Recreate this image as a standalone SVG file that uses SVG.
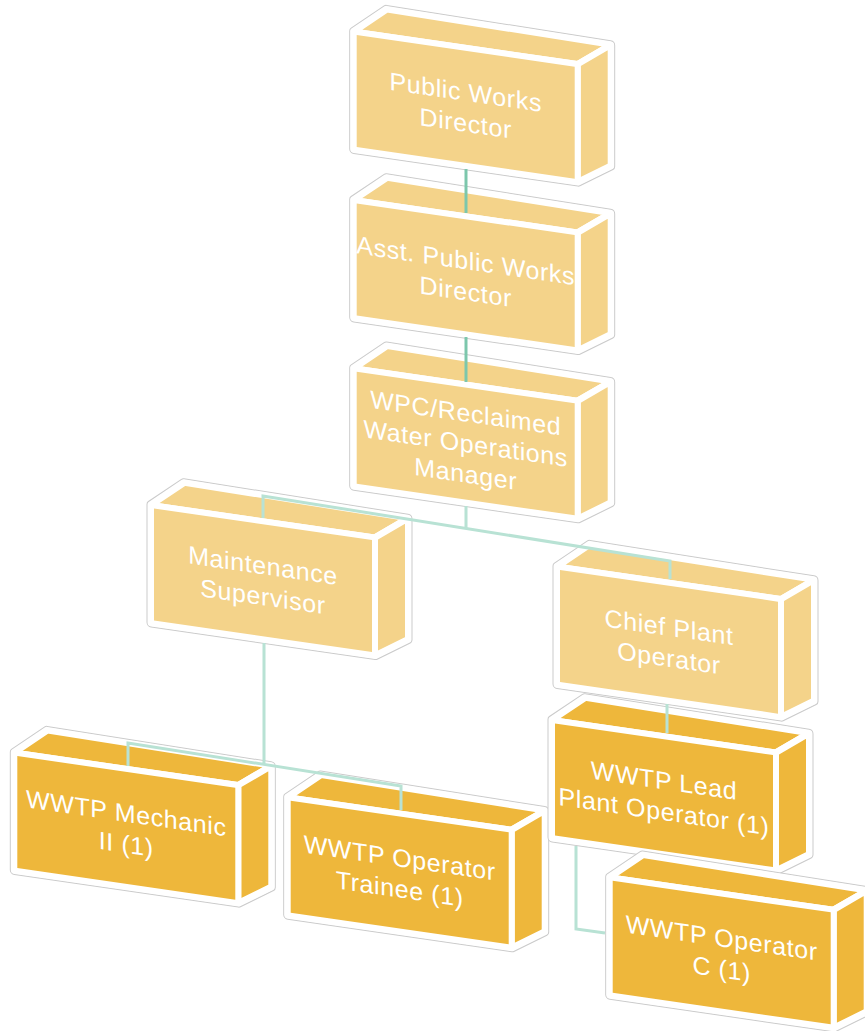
<svg xmlns="http://www.w3.org/2000/svg" xmlns:xlink="http://www.w3.org/1999/xlink" width="865" height="1031" viewBox="0 0 865 1031">
<style>
.outl{fill:none;stroke:#cbcbcb;stroke-width:9;stroke-linejoin:round}
.outw{fill:#fff;stroke:#fff;stroke-width:7;stroke-linejoin:round}
.face{fill:currentColor;stroke:#fff;stroke-width:6;stroke-linejoin:round}
.light{color:#F4D38A}
.dark{color:#EEB73B}
.t{font-family:"Liberation Sans",Arial,sans-serif;font-size:25px;fill:#fff;text-anchor:middle;letter-spacing:0.6px}
.c1{stroke:#7CC7AC}
.c2{stroke:#B8E2D4}
</style>
<defs>
<g id="box">
<polygon class="outl" points="0,0 33,-27 257,-24 257,97 224,118 0,118"/>
<polygon class="outw" points="0,0 33,-27 257,-24 257,97 224,118 0,118"/>
<polygon class="face" points="0,0 33,-27 257,-24 224,0"/>
<polygon class="face" points="224,0 257,-24 257,97 224,118"/>
<rect class="face" x="0" y="0" width="224" height="118"/>
</g>
</defs>
<rect width="865" height="1031" fill="#fff"/>
<g id="n1" class="light" transform="translate(353.7,31.6) skewY(8.25)">
<use xlink:href="#box" href="#box"/>
<text class="t"><tspan x="112" y="53">Public Works</tspan><tspan x="112" y="84">Director</tspan></text>
</g>
<g id="n2" class="light" transform="translate(353.7,200) skewY(8.25)">
<use xlink:href="#box" href="#box"/>
<text class="t"><tspan x="112" y="53">Asst. Public Works</tspan><tspan x="112" y="84">Director</tspan></text>
</g>
<g id="n3" class="light" transform="translate(353.7,368.3) skewY(8.25)">
<use xlink:href="#box" href="#box"/>
<text class="t"><tspan x="112" y="37">WPC/Reclaimed</tspan><tspan x="112" y="67.5">Water Operations</tspan><tspan x="112" y="98">Manager</tspan></text>
</g>
<g id="n4" class="light" transform="translate(151,505) skewY(8.25)">
<use xlink:href="#box" href="#box"/>
<text class="t"><tspan x="112" y="53">Maintenance</tspan><tspan x="112" y="84">Supervisor</tspan></text>
</g>
<g id="n5" class="light" transform="translate(557,566.6) skewY(8.25)">
<use xlink:href="#box" href="#box"/>
<text class="t"><tspan x="112" y="53">Chief Plant</tspan><tspan x="112" y="84">Operator</tspan></text>
</g>
<g id="n6" class="dark" transform="translate(14.3,752.6) skewY(8.25)">
<use xlink:href="#box" href="#box"/>
<text class="t"><tspan x="112" y="53">WWTP Mechanic</tspan><tspan x="112" y="84">II (1)</tspan></text>
</g>
<g id="n7" class="dark" transform="translate(287.7,797.3) skewY(8.25)">
<use xlink:href="#box" href="#box"/>
<text class="t"><tspan x="112" y="53">WWTP Operator</tspan><tspan x="112" y="84">Trainee (1)</tspan></text>
</g>
<g id="n8" class="dark" transform="translate(552,720) skewY(8.25)">
<use xlink:href="#box" href="#box"/>
<text class="t"><tspan x="112" y="53">WWTP Lead</tspan><tspan x="112" y="84">Plant Operator (1)</tspan></text>
</g>
<g id="n9" class="dark" transform="translate(609.7,877.3) skewY(8.25)">
<use xlink:href="#box" href="#box"/>
<text class="t"><tspan x="112" y="53">WWTP Operator</tspan><tspan x="112" y="84">C (1)</tspan></text>
</g>
<g id="connectors" fill="none" stroke-width="3">
<path class="c1" d="M466,169 V213"/>
<path class="c1" d="M466,337 V382"/>
<path class="c2" d="M466,506 V528 M263,518 V496 L670,561 V579"/>
<path class="c2" d="M264,643 V765 M128,766 V743 L401,786 V810"/>
<path class="c2" d="M667,704 V733"/>
<path class="c2" d="M576,846 V929 L605,933"/>
</g>
</svg>
